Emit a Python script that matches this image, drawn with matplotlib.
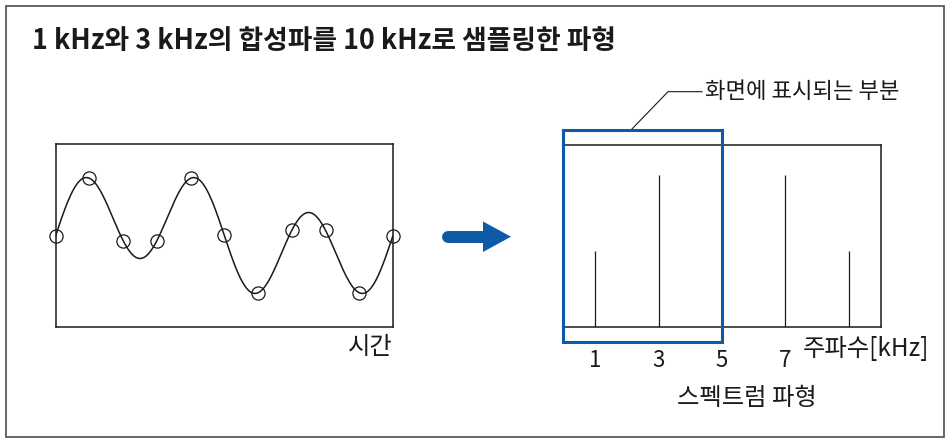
import numpy as np
import matplotlib
matplotlib.use("Agg")
import matplotlib.pyplot as plt
from matplotlib.patches import Rectangle, Polygon
from matplotlib.lines import Line2D
import matplotlib.transforms as mtransforms

plt.rcParams['font.family'] = ['Noto Sans CJK KR', 'DejaVu Sans']

# ---- data ----
title = "1 kHz와 3 kHz의 합성파를 10 kHz로 샘플링한 파형"
component_freqs_khz = [1, 3]          # components of the composite wave
component_amps = [1, 2]               # relative amplitudes
sample_rate_khz = 10
duration_ms = 1.0

spectrum_freqs_khz = [1, 3, 7, 9]     # spectral lines (incl. aliases)
spectrum_amps = [1, 2, 2, 1]
freq_ticks = [1, 3, 5, 7]
freq_tick_labels = ["1", "3", "5", "7"]
display_range_khz = [0, 5]

time_label = "시간"
freq_label = "주파수[kHz]"
spectrum_caption = "스펙트럼 파형"
callout_text = "화면에 표시되는 부분"

BLUE = "#0D5BA8"
INK = "#1a1a1a"

W, H = 946, 438
fig = plt.figure(figsize=(W / 100, H / 100), dpi=100)

def px_rect(x0, y0, x1, y1):
    return [x0 / W, 1 - y1 / H, (x1 - x0) / W, (y1 - y0) / H]

# overlay in pixel coordinates for decorations
ov = fig.add_axes([0, 0, 1, 1])
ov.set_xlim(0, W)
ov.set_ylim(H, 0)
ov.axis('off')

ov.add_patch(Rectangle((6, 5.5), 938, 431, fill=False, ec="#5a5a5a", lw=1.3))
ov.text(32, 41, title, fontsize=19.3, fontweight='bold', va='center', ha='left', color=INK)

# ---- time-domain wave ----
axL = fig.add_axes(px_rect(55.7, 144, 393, 327))
t = np.linspace(0, duration_ms, 1000)
wave = sum(a * np.sin(2 * np.pi * f * t) for f, a in zip(component_freqs_khz, component_amps))
ts = np.arange(0, duration_ms + 1e-9, 1 / sample_rate_khz)
samples = sum(a * np.sin(2 * np.pi * f * ts) for f, a in zip(component_freqs_khz, component_amps))
axL.plot(t, wave, color=INK, lw=1.1)
axL.plot(ts, samples, 'o', ms=9.5, mfc='none', mec=INK, mew=0.9, clip_on=False)
axL.set_xlim(0, duration_ms)
axL.set_ylim(-3.98, 3.98)
axL.set_xticks([]); axL.set_yticks([])
for s in axL.spines.values():
    s.set_linewidth(1.1); s.set_color(INK)
ov.text(393, 347, time_label, fontsize=17.5, ha='right', va='center', color=INK)

# ---- arrow ----
ov.add_line(Line2D([447.7, 486], [236.5, 236.5], lw=8.6, color=BLUE, solid_capstyle='round'))
ov.add_patch(Polygon([[483, 221.5], [483, 252], [511, 236.7]], closed=True, fc=BLUE, ec='none'))

# ---- spectrum ----
axR = fig.add_axes(px_rect(563.3, 145, 880.7, 327))
axR.vlines(spectrum_freqs_khz, 0, spectrum_amps, color=INK, lw=0.9)
axR.set_xlim(0, 10)
axR.set_ylim(0, 2.4)
axR.set_yticks([])
axR.set_xticks(freq_ticks)
axR.set_xticklabels(freq_tick_labels, fontsize=16, color=INK)
axR.tick_params(axis='x', length=0, pad=16)
for s in axR.spines.values():
    s.set_linewidth(1.1); s.set_color(INK)

trans = mtransforms.blended_transform_factory(axR.transData, axR.transAxes)
axR.add_patch(Rectangle((display_range_khz[0], -15 / 182), display_range_khz[1] - display_range_khz[0],
                        1 + 30 / 182, transform=trans, fill=False, ec=BLUE, lw=2.2, clip_on=False, zorder=5))

ov.plot([630.7, 668, 702], [130.3, 91.7, 91.7], color=INK, lw=0.8)
ov.text(705, 91.5, callout_text, fontsize=16, ha='left', va='center', color=INK)
ov.text(803, 349, freq_label, fontsize=17.5, ha='left', va='center', color=INK)
ov.text(747, 398, spectrum_caption, fontsize=17.5, ha='center', va='center', color=INK)

fig.savefig("out.png", dpi=100)
